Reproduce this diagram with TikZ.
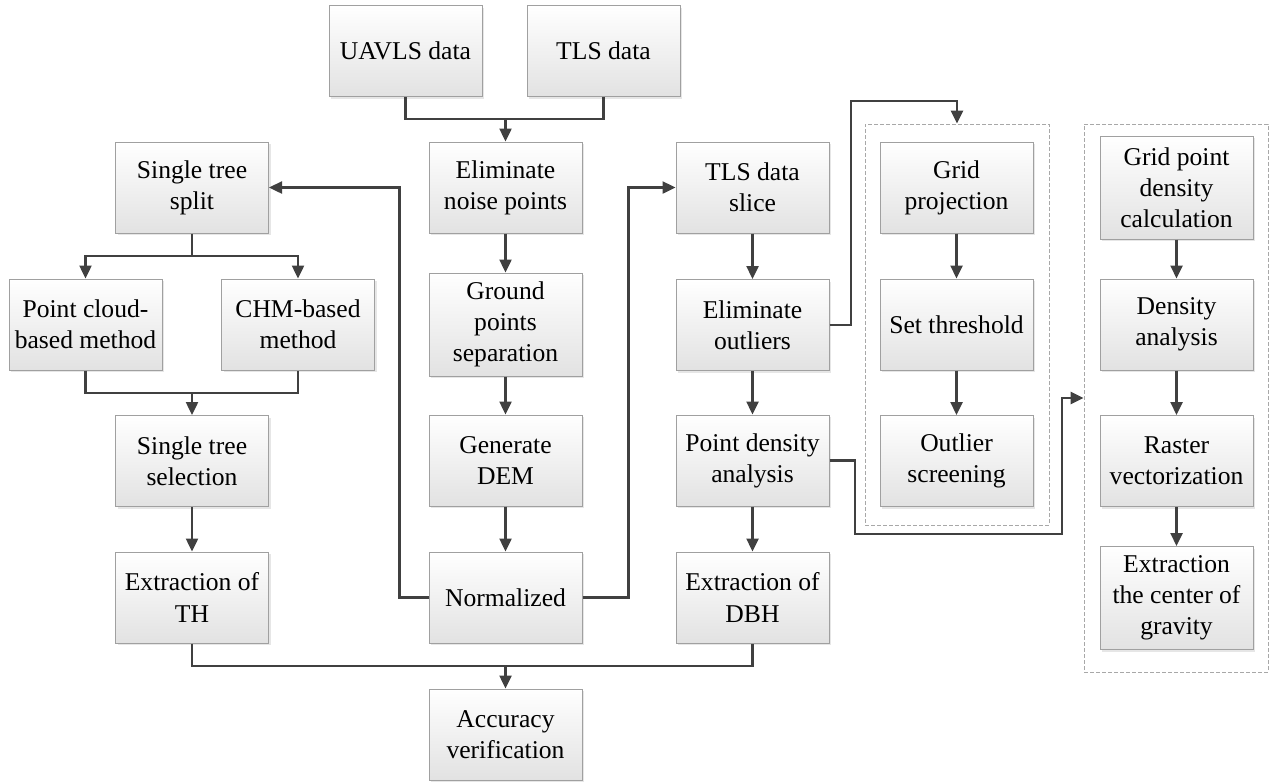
\documentclass[tikz,border=0pt]{standalone}
\usepackage{fontspec}
\setmainfont{Liberation Serif}
\usepackage{xcolor}
\usepackage{tikz}
\usetikzlibrary{arrows.meta,shadows}
\definecolor{linec}{HTML}{404040}
\definecolor{edgec}{HTML}{A0A0A0}
\definecolor{botc}{HTML}{E2E2E2}
\definecolor{framec}{HTML}{A8A8A8}
\tikzset{
  ln/.style={line width=1.2pt,linec},
  ar/.style={-{Triangle[length=6.5pt,width=6pt]},line width=1.2pt,linec},
  box/.style={draw=edgec,line width=0.5pt,top color=white,bottom color=botc,align=center,
    minimum width=76.5pt,minimum height=45.5pt,inner sep=1pt,
    font=\rmfamily\fontsize{12.8}{15.6}\selectfont,
    drop shadow={shadow xshift=1pt,shadow yshift=-1pt,opacity=0.2}},
  tallbox/.style={box,minimum height=51.5pt},
  frame/.style={draw=framec,dashed,dash pattern=on 2pt off 1pt,line width=0.4pt,inner sep=0pt}
}
\begin{document}
\begin{tikzpicture}[x=0.5pt,y=-0.5pt]
\useasboundingbox (0,0) rectangle (1272,783);
\node[frame,minimum width=92pt,minimum height=200.5pt] (fr1) at (957,324.5) {};
\node[frame,minimum width=92pt,minimum height=274pt] (fr2) at (1176,398) {};
\node[box] (uav) at (405.5,51) {UAVLS data};
\node[box] (tls) at (603.5,51) {TLS data};
\node[box] (noise) at (505.5,187.5) {Eliminate\\noise points};
\node[tallbox] (ground) at (505.5,324.5) {Ground\\points\\separation};
\node[box] (dem) at (505.5,460.5) {Generate\\DEM};
\node[box] (norm) at (505.5,597.5) {Normalized};
\node[box] (acc) at (505.5,734.5) {Accuracy\\verification};
\node[box] (split) at (192,187.5) {Single tree\\split};
\node[box] (pcm) at (85.5,324.5) {Point cloud-\\based method};
\node[box] (chm) at (298,324.5) {CHM-based\\method};
\node[box] (sel) at (192,461) {Single tree\\selection};
\node[box] (th) at (192,597.5) {Extraction of\\TH};
\node[box] (slice) at (752.5,187.5) {TLS data\\slice};
\node[box] (outl) at (752.5,325) {Eliminate\\outliers};
\node[box] (pda) at (752.5,460.5) {Point density\\analysis};
\node[box] (dbh) at (752.5,597.5) {Extraction of\\DBH};
\node[box] (grid) at (956.5,187.5) {Grid\\projection};
\node[box] (thr) at (956.5,324.5) {Set threshold};
\node[box] (scr) at (956.5,461) {Outlier\\screening};
\node[tallbox] (gpd) at (1176.5,187.5) {Grid point\\density\\calculation};
\node[box] (dens) at (1176.5,324.5) {Density\\analysis};
\node[box] (rast) at (1176.5,461) {Raster\\vectorization};
\node[tallbox] (grav) at (1176.5,598) {Extraction\\the center of\\gravity};
\coordinate (j1) at (505.5,119);
\coordinate (j2) at (192,256);
\coordinate (j3) at (192,393);
\coordinate (j4) at (505.5,666);
\draw[ln] (uav.south) |- (j1) -| (tls.south);
\draw[ar] (j1) -- (noise);
\draw[ar] (noise) -- (ground);
\draw[ar] (ground) -- (dem);
\draw[ar] (dem) -- (norm);
\draw[ar] (norm.west) -- ++(-29,0) |- (split.east);
\draw[ar] (norm.east) -- ++(46,0) |- (slice.west);
\draw[ln] (split) -- (j2);
\draw[ar] (j2) -| (pcm.north);
\draw[ar] (j2) -| (chm.north);
\draw[ln] (pcm.south) |- (j3) -| (chm.south);
\draw[ar] (j3) -- (sel);
\draw[ar] (sel) -- (th);
\draw[ln] (th.south) |- (j4) -| (dbh.south);
\draw[ar] (j4) -- (acc);
\draw[ar] (slice) -- (outl);
\draw[ar] (outl) -- (pda);
\draw[ar] (pda) -- (dbh);
\draw[ar] (outl.east) -| (851,101) -| (fr1.north);
\draw[ar] (pda.east) -| (855,534) -| (1062,398) -- (fr2.west);
\draw[ar] (grid) -- (thr);
\draw[ar] (thr) -- (scr);
\draw[ar] (gpd) -- (dens);
\draw[ar] (dens) -- (rast);
\draw[ar] (rast) -- (grav);
\end{tikzpicture}
\end{document}
